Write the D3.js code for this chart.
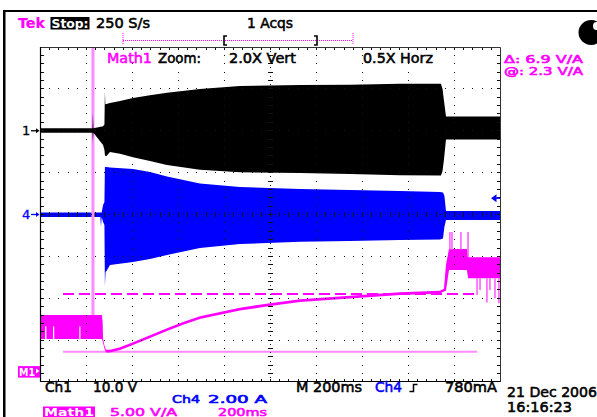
<!DOCTYPE html>
<html>
<head>
<meta charset="utf-8">
<script src="https://cdn.jsdelivr.net/npm/d3@7"></script>
<style>
  html, body { margin: 0; padding: 0; background: #fff; }
  svg { display: block; }
  text { font-family: "DejaVu Sans", sans-serif; font-size: 14px; }
</style>
</head>
<body>
<svg id="scope" width="597" height="417"></svg>
<script>
// ---- acquisition settings ----
const timePerDiv = 200;      // ms / div
const ch1PerDiv = 10;        // V / div
const ch4PerDiv = 2;         // A / div
const mathPerDiv = 5;        // V/A / div
const ch1OffsetDiv = 2;
const ch4OffsetDiv = 0;
const mathOffsetDiv = -3.74;
const triggerLevel = 0.78;   // A, on Ch4
const cursorLevels = [2.3, 9.2]; // V/A

// ---- Ch1 voltage envelope (V) ----
const ch1Time = [0, 224, 226, 228, 230, 272, 278, 280, 282, 287, 302, 346, 402, 476, 550, 693, 867, 1128, 1346, 1563, 1741, 1748, 1754, 1763, 2000];
const ch1Max  = [0.6, 0.6, 0.6, 4.2, 0.6, 1.1, 1.5, 9.3, 6.3, 6.4, 6.6, 7.1, 7.8, 8.5, 9.1, 10.0, 10.7, 10.9, 11.0, 11.2, 11.2, 10.0, 7.3, 3.4, 3.4];
const ch1Min  = [-0.5, -0.5, -0.5, -2.7, -0.5, -3.4, -4.6, -5.8, -6.0, -6.0, -5.1, -5.5, -6.3, -7.2, -8.2, -9.3, -9.9, -10.1, -10.3, -10.6, -10.7, -9.6, -7.0, -2.1, -2.1];

// ---- Ch4 current envelope (A) ----
const ch4Time = [0, 260, 263, 266, 272, 278, 280, 283, 287, 302, 402, 476, 550, 693, 867, 1128, 1346, 1563, 1737, 1750, 1756, 1763, 2000];
const ch4Max  = [0.10, 0.10, 0.10, 0.10, 0.45, 0.60, 2.27, 2.27, 2.27, 2.24, 2.17, 2.03, 1.81, 1.48, 1.31, 1.22, 1.17, 1.12, 1.07, 1.05, 0.90, 0.17, 0.17];
const ch4Min  = [-0.12, -0.12, -0.58, -0.12, -0.36, -0.50, -3.41, -2.75, -2.70, -2.41, -2.27, -2.13, -1.94, -1.60, -1.41, -1.30, -1.27, -1.22, -1.19, -1.15, -0.60, -0.26, -0.26];

// ---- Math1 = Ch1 / Ch4 envelope (V/A) ----
const mathTime = [0, 20, 20.5, 25.5, 26, 54, 54.5, 59.5, 60, 168.5, 169, 173.5, 174, 267, 270, 272, 278, 285, 302, 346, 402, 476, 550, 620, 693, 867, 998, 1128, 1346, 1563, 1737, 1754, 1763, 1776, 1854, 1859, 2000];
const mathMax  = [6.69, 6.69, 6.69, 6.69, 6.69, 6.69, 6.69, 6.69, 6.69, 6.69, 6.69, 6.69, 6.69, 6.69, 5.90, 3.90, 3.04, 2.56, 2.56, 2.86, 3.45, 4.29, 5.13, 5.87, 6.56, 7.57, 8.11, 8.59, 9.01, 9.42, 9.60, 9.84, 12.70, 14.57, 14.57, 13.61, 13.61];
const mathMin  = [3.82, 3.82, 5.37, 5.37, 3.82, 3.82, 5.37, 5.37, 3.82, 3.82, 5.37, 5.37, 3.82, 3.82, 3.60, 3.40, 2.70, 2.22, 2.22, 2.52, 3.11, 3.95, 4.79, 5.53, 6.22, 7.23, 7.77, 8.25, 8.67, 9.08, 9.26, 9.50, 9.60, 12.06, 12.06, 11.10, 11.10];

// isolated Math1 excursions
const mathSpikeTime = [228];
const mathSpikeHigh = [40];
const mathSpikeLow  = [6.69];
const mathGlitchTime = [1780, 1789, 1828, 1859, 1898, 1911, 1941, 1954, 1976, 1993];
const mathGlitchHigh = [16.6, 16.6, 16.6, 16.6, 11.1, 11.1, 11.1, 11.1, 11.1, 11.1];
const mathGlitchLow  = [14.5, 14.5, 14.5, 13.6, 9.1, 9.7, 8.2, 9.7, 8.7, 8.1];

// ---- readout texts ----
const headerTexts = { tek: "Tek", stop: "Stop:", rate: "250 S/s", acqs: "1 Acqs" };
const zoomTexts = ["Math1", "Zoom:", "2.0X Vert", "0.5X Horz"];
const cursorTexts = ["\u0394: 6.9 V/A", "@: 2.3 V/A"];
const footerTexts = ["Ch1", "10.0 V", "M 200ms", "Ch4", "780mA", "Ch4", "2.00 A", "Math1", "5.00 V/A", "200ms"];
const dateTexts = ["21 Dec 2006", "16:16:23"];

// ---- colours ----
const MAG = "#ff00ff", PINK = "#ff8cff", BLUE = "#0000ff", INK = "#000";

const svg = d3.select("#scope");
const W = 597, H = 417;

// screen frame
svg.append("rect").attr("width", W).attr("height", H).attr("fill", "#fff");
svg.append("rect").attr("x", 3).attr("y", 10).attr("width", W - 3).attr("height", 2).attr("fill", INK);
svg.append("rect").attr("x", 3).attr("y", 10).attr("width", 2.5).attr("height", H - 10).attr("fill", INK);

// graticule geometry: 10 x 8 divisions
const gx0 = 40.5, gx1 = 500.5, gy0 = 47, gy1 = 382;
const x = d3.scaleLinear().domain([0, 10 * timePerDiv]).range([gx0, gx1]);
const div = d3.scaleLinear().domain([-4, 4]).range([gy1, gy0]);
const yCh1 = d3.scaleLinear().domain([(-4 - ch1OffsetDiv) * ch1PerDiv, (4 - ch1OffsetDiv) * ch1PerDiv]).range([gy1, gy0]);
const yCh4 = d3.scaleLinear().domain([(-4 - ch4OffsetDiv) * ch4PerDiv, (4 - ch4OffsetDiv) * ch4PerDiv]).range([gy1, gy0]);
const yMath = d3.scaleLinear().domain([(-4 - mathOffsetDiv) * mathPerDiv, (4 - mathOffsetDiv) * mathPerDiv]).range([gy1, gy0]);
const xDiv = d3.scaleLinear().domain([0, 10]).range([gx0, gx1]);

svg.append("clipPath").attr("id", "plot").append("rect")
  .attr("x", gx0).attr("y", gy0 + 0.5).attr("width", gx1 - gx0).attr("height", gy1 - gy0 - 0.5);
const plot = svg.append("g").attr("clip-path", "url(#plot)");

function envelope(times, hi, lo, yScale) {
  const rows = d3.zip(times, hi, lo).map(([t, h, l]) => ({ t, h, l }));
  return d3.area().x(d => x(d.t)).y0(d => yScale(d.l)).y1(d => yScale(d.h))(rows);
}
function spikes(g, times, hi, lo, yScale, color, w) {
  g.selectAll(null).data(d3.zip(times, hi, lo)).join("line")
    .attr("x1", d => x(d[0])).attr("x2", d => x(d[0]))
    .attr("y1", d => yScale(d[1])).attr("y2", d => yScale(d[2]))
    .attr("stroke", color).attr("stroke-width", w);
}

// Ch4 current
plot.append("path").attr("d", envelope(ch4Time, ch4Max, ch4Min, yCh4)).attr("fill", BLUE);
// Math1 start-up excursion
spikes(plot, mathSpikeTime, mathSpikeHigh, mathSpikeLow, yMath, PINK, 3);
// Ch1 voltage
plot.append("path").attr("d", envelope(ch1Time, ch1Max, ch1Min, yCh1)).attr("fill", INK);

// cursors
const curX0 = x(98), curX1 = x(1898);
plot.append("line").attr("x1", curX0).attr("x2", curX1)
  .attr("y1", yMath(cursorLevels[1])).attr("y2", yMath(cursorLevels[1]))
  .attr("stroke", MAG).attr("stroke-width", 2).attr("stroke-dasharray", "11,5");
plot.append("line").attr("x1", curX0).attr("x2", curX1)
  .attr("y1", yMath(cursorLevels[0])).attr("y2", yMath(cursorLevels[0]))
  .attr("stroke", PINK).attr("stroke-width", 2);

// Math1
plot.append("path").attr("d", envelope(mathTime, mathMax, mathMin, yMath)).attr("fill", MAG);
spikes(plot, mathGlitchTime, mathGlitchHigh, mathGlitchLow, yMath, "#ff55ff", 1.5);

// graticule dots and ticks (drawn over the traces)
const grid = svg.append("g").attr("fill", "#111");
const dot = (px, py, w = 1, h = 1) => grid.append("rect")
  .attr("x", Math.floor(px)).attr("y", Math.floor(py)).attr("width", w).attr("height", h);
for (let i = 1; i < 10; i++) {
  if (i === 5) continue;
  for (let j = 1; j < 40; j++) dot(xDiv(i), div(-4 + j / 5));
}
for (let k = -3; k <= 3; k++) {
  if (k === 0) continue;
  for (let j = 1; j < 50; j++) dot(xDiv(j / 5), div(k));
}
// centre cross with minor ticks
for (let j = 1; j < 80; j++) {
  const yy = div(-4 + j / 10);
  if (j % 2 === 0) dot(xDiv(5) - 2, yy, 5, 1); else dot(xDiv(5), yy);
}
for (let j = 1; j < 100; j++) {
  const xx = xDiv(j / 10);
  if (j % 2 === 0) dot(xx, div(0) - 2, 1, 5); else dot(xx, div(0));
}
// border ticks
for (let j = 1; j < 40; j++) {
  dot(gx0 + 0.5, div(-4 + j / 5), 3, 1);
  dot(gx1 - 3.5, div(-4 + j / 5), 3, 1);
}
for (let j = 1; j < 50; j++) {
  dot(xDiv(j / 5), gy0 + 0.5, 1, 3);
  dot(xDiv(j / 5), gy1 - 3, 1, 3);
}
svg.append("path")
  .attr("d", `M${gx0},${gy0 + 0.5}H${gx1}V${gy1 - 0.5}H${gx0}Z`)
  .attr("fill", "none").attr("stroke", "#333").attr("stroke-width", 1);
svg.append("line").attr("x1", gx0).attr("x2", gx0).attr("y1", gy0).attr("y2", gy1)
  .attr("stroke", INK).attr("stroke-width", 1.2);
svg.append("line").attr("x1", gx0).attr("x2", gx1).attr("y1", gy1 - 0.5).attr("y2", gy1 - 0.5)
  .attr("stroke", INK).attr("stroke-width", 1.2);

// text helper
function label(str, px, py, color, opts = {}) {
  const t = svg.append("text").attr("x", px).attr("y", py).attr("fill", color)
    .attr("stroke", color).attr("stroke-width", opts.sw ?? 0.55).text(str);
  if (opts.size) t.style("font-size", opts.size + "px");
  if (opts.bold) t.style("font-weight", "bold");
  if (opts.len) t.attr("textLength", opts.len).attr("lengthAdjust", "spacingAndGlyphs");
  return t;
}

// header row
label(headerTexts.tek, 18, 28, MAG, { bold: true, len: 27, sw: 0.2 });
svg.append("rect").attr("x", 50.5).attr("y", 17).attr("width", 39).attr("height", 12.5).attr("fill", INK);
label(headerTexts.stop, 51.5, 28, "#fff", { bold: true, size: 13, len: 37, sw: 0.1 });
label(headerTexts.rate, 96, 28, INK, { len: 54 });
label(headerTexts.acqs, 247, 28, INK, { len: 46 });

// record-length bar
const bar = svg.append("g");
bar.append("line").attr("x1", 123).attr("x2", 353).attr("y1", 40.5).attr("y2", 40.5)
  .attr("stroke", MAG).attr("stroke-width", 1).attr("stroke-dasharray", "1,1");
[123, 353].forEach(bx => bar.append("line").attr("x1", bx).attr("x2", bx)
  .attr("y1", 33).attr("y2", 45).attr("stroke", MAG).attr("stroke-width", 1).attr("stroke-dasharray", "1,1"));
bar.append("path").attr("d", "M227,36H224V45H227").attr("fill", "none").attr("stroke", INK).attr("stroke-width", 1.6);
bar.append("path").attr("d", "M314,36H317V45H314").attr("fill", "none").attr("stroke", INK).attr("stroke-width", 1.6);

// top-right status icon
svg.append("circle").attr("cx", 591).attr("cy", 32.5).attr("r", 12.5).attr("fill", INK);
svg.append("ellipse").attr("cx", 596.5).attr("cy", 26).attr("rx", 3.5).attr("ry", 4).attr("fill", "#fff");

// zoom readout
label(zoomTexts[0], 107, 63, MAG, { len: 45 });
label(zoomTexts[1], 158, 63, INK, { len: 43 });
label(zoomTexts[2], 229, 63, INK, { len: 67 });
label(zoomTexts[3], 363, 63, INK, { len: 70 });

// cursor readout
label(cursorTexts[0], 504, 62.5, MAG, { size: 10.5, len: 79, sw: 0.6 });
label(cursorTexts[1], 504, 75, MAG, { size: 10.5, len: 79, sw: 0.6 });

// channel ground markers
const markers = svg.append("g");
[[ "1", yCh1(0), INK ], [ "4", yCh4(0), BLUE ]].forEach(([s, yy, c]) => {
  label(s, 22, yy + 4.5, c, { size: 13, sw: 0.3 });
  markers.append("line").attr("x1", 31).attr("x2", 37).attr("y1", yy).attr("y2", yy)
    .attr("stroke", c).attr("stroke-width", 1.3);
  markers.append("path").attr("d", `M36,${yy - 2.5}L39.5,${yy}L36,${yy + 2.5}Z`).attr("fill", c);
});
// Math1 ground marker
svg.append("rect").attr("x", 18).attr("y", yMath(0) - 5).attr("width", 22).attr("height", 11.5).attr("fill", MAG);
label("M1", 19, yMath(0) + 5, "#fff", { size: 11, bold: true, len: 16, sw: 0 });
svg.append("path").attr("d", `M36,${yMath(0) - 2.5}L39.5,${yMath(0)}L36,${yMath(0) + 2.5}Z`).attr("fill", "#fff");

// trigger level marker
const ty = yCh4(triggerLevel);
svg.append("path").attr("d", `M491,${ty}L496.5,${ty - 4}L496.5,${ty + 4}Z`).attr("fill", BLUE);
svg.append("line").attr("x1", 496).attr("x2", 500).attr("y1", ty).attr("y2", ty).attr("stroke", BLUE).attr("stroke-width", 1.5);

// footer readouts
label(footerTexts[0], 45, 392, INK, { len: 27 });
label(footerTexts[1], 93, 392, INK, { len: 44 });
label(footerTexts[2], 296, 392, INK, { len: 66 });
label(footerTexts[3], 375, 392, BLUE, { len: 27 });
svg.append("path").attr("d", "M409.5,391.5H413.5V384.5H417.5").attr("fill", "none").attr("stroke", INK).attr("stroke-width", 1.5);
label(footerTexts[4], 445, 392, INK, { len: 52 });
label(footerTexts[5], 172, 402.5, BLUE, { size: 11, len: 28, sw: 0.6 });
label(footerTexts[6], 208, 402.5, BLUE, { size: 11, len: 59, sw: 0.6 });
svg.append("rect").attr("x", 43).attr("y", 406.5).attr("width", 52).attr("height", 11).attr("fill", MAG);
label(footerTexts[7], 44, 415.5, "#fff", { size: 11, bold: true, len: 50, sw: 0 });
label(footerTexts[8], 110, 415.5, MAG, { size: 11, len: 67, sw: 0.6 });
label(footerTexts[9], 218, 415.5, MAG, { size: 11, len: 49, sw: 0.6 });
label(dateTexts[0], 507, 397, INK, { len: 90 });
label(dateTexts[1], 507, 412, INK, { len: 65 });
</script>
</body>
</html>
